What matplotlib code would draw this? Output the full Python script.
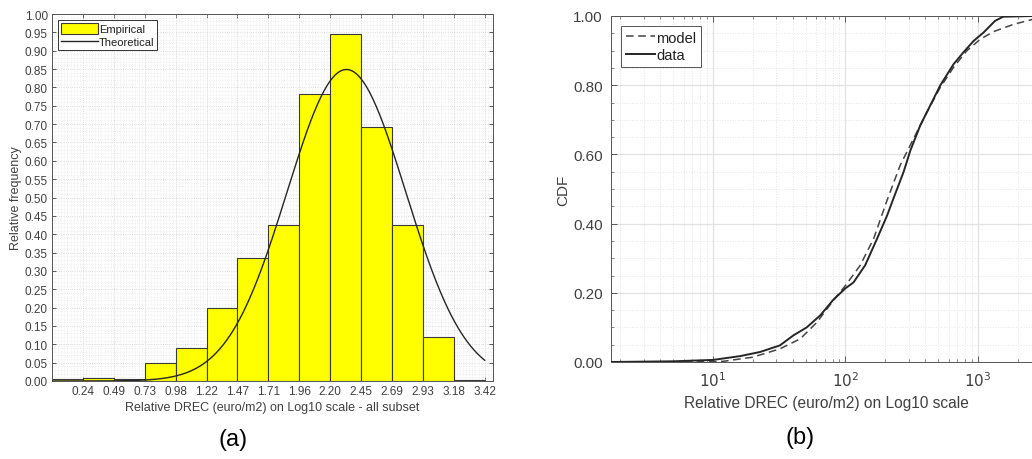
import numpy as np
import matplotlib
matplotlib.use("Agg")
import matplotlib.pyplot as plt
from matplotlib.ticker import FixedLocator, MultipleLocator, LogLocator, FuncFormatter

plt.rcParams['font.family'] = ['Liberation Sans', 'DejaVu Sans']

# ---------------- data: panel (a) ----------------
bin_edges = [0.0, 0.2446, 0.4891, 0.7337, 0.9783, 1.2229, 1.4674, 1.7120,
             1.9566, 2.2011, 2.4457, 2.6903, 2.9349, 3.1794, 3.4240]
xtick_labels = ['0.24', '0.49', '0.73', '0.98', '1.22', '1.47', '1.71',
                '1.96', '2.20', '2.45', '2.69', '2.93', '3.18', '3.42']
empirical = [0.006, 0.008, 0.006, 0.048, 0.091, 0.198, 0.334, 0.426,
             0.782, 0.945, 0.692, 0.426, 0.119, 0.003]
theo_mu = 2.33
theo_sigma = 0.47

# ---------------- data: panel (b) ----------------
data_x = [1.7, 5, 10, 16, 22.7, 32, 40.5, 51, 64.6, 81, 100, 115, 141, 173,
          206, 231, 275, 308, 367, 437, 520, 655, 777, 927, 1100, 1346,
          1550, 2570, 10000]
data_cdf = [0.0, 0.002, 0.006, 0.017, 0.029, 0.048, 0.077, 0.100, 0.135,
            0.180, 0.213, 0.230, 0.280, 0.356, 0.423, 0.474, 0.550, 0.610,
            0.684, 0.742, 0.800, 0.861, 0.895, 0.928, 0.952, 0.986, 0.998,
            1.0, 1.0]
model_x = [1.7, 5, 8, 12, 20, 32, 45.6, 61, 81, 100, 129, 163, 205, 259,
           327, 412, 520, 655, 826, 1042, 1313, 1860, 2570, 4000, 10000]
model_cdf = [0.0, 0.0, 0.0005, 0.002, 0.014, 0.038, 0.067, 0.115, 0.178,
             0.221, 0.279, 0.356, 0.465, 0.569, 0.646, 0.722, 0.794, 0.852,
             0.900, 0.933, 0.955, 0.976, 0.990, 0.997, 1.0]
log_ticks = [10, 100, 1000]

W, H = 1032, 460
fig = plt.figure(figsize=(W / 100, H / 100), dpi=100)

txt = '#404040'

def px_axes(l, t, r, b):
    return fig.add_axes([l / W, 1 - b / H, (r - l) / W, (b - t) / H])

# ---------------- panel (a) ----------------
ax1 = px_axes(52, 15, 493, 382)
widths = np.diff(bin_edges)
bars = ax1.bar(bin_edges[:-1], empirical, width=widths, align='edge',
               color='#ffff00', edgecolor='#3a3a3a', linewidth=0.8,
               label='Empirical', zorder=2)
xs = np.linspace(bin_edges[0], bin_edges[-1], 400)
pdf = np.exp(-0.5 * ((xs - theo_mu) / theo_sigma) ** 2) / (theo_sigma * np.sqrt(2 * np.pi))
line, = ax1.plot(xs, pdf, color='#262626', lw=1.0, label='Theoretical', zorder=3)
ax1.set_xlim(0, 3.49)
ax1.set_ylim(0, 1.0)
ax1.xaxis.set_major_locator(FixedLocator(bin_edges[1:]))
ax1.set_xticklabels(xtick_labels)
ax1.yaxis.set_major_locator(MultipleLocator(0.05))
ax1.yaxis.set_major_formatter(FuncFormatter(lambda v, p: f'{v:.2f}'))
ax1.xaxis.set_minor_locator(MultipleLocator(0.02446))
ax1.yaxis.set_minor_locator(MultipleLocator(0.01))
ax1.grid(True, which='major', color='#d4d4d4', lw=0.6, ls=':', zorder=0)
ax1.grid(True, which='minor', color='#e6e6e6', lw=0.5, ls=':', zorder=0)
ax1.set_axisbelow(True)
ax1.tick_params(axis='both', which='major', direction='in', length=3,
                labelsize=8.5, colors=txt, top=True, right=True, width=0.6,
                pad=3)
ax1.tick_params(axis='both', which='minor', length=0)
for s in ax1.spines.values():
    s.set_color('#555555'); s.set_linewidth(0.7)
ax1.set_xlabel('Relative DREC (euro/m2) on Log10 scale - all subset',
               fontsize=9, color=txt, labelpad=3)
ax1.set_ylabel('Relative frequency', fontsize=9, color=txt, labelpad=2)
leg1 = ax1.legend([bars, line], ['Empirical', 'Theoretical'],
                  loc='upper left', fontsize=8, frameon=True, fancybox=False,
                  edgecolor='#333333', framealpha=1, borderpad=0.25,
                  handlelength=3.3, handleheight=1.1, handletextpad=0.15,
                  labelspacing=0.2, borderaxespad=0.55)
leg1.get_frame().set_linewidth(0.7)
for t in leg1.get_texts():
    t.set_color('#202020')

fig.text(233 / W, 1 - 440 / H, '(a)', fontsize=17, ha='center', va='center',
         color='black')

# ---------------- panel (b) ----------------
xlo, xhi = 1.7, 10000.0
dec = 132.5
left_px = 611
right_px = left_px + dec * (np.log10(xhi) - np.log10(xlo))
ax2 = px_axes(left_px, 17, right_px, 363)
ax2.plot(model_x, model_cdf, color='#444444', lw=1.1, ls=(0, (5, 3)),
         label='model', zorder=3)
ax2.plot(data_x, data_cdf, color='#262626', lw=1.4, label='data', zorder=3)
ax2.set_xscale('log')
ax2.set_xlim(xlo, xhi)
ax2.set_ylim(0, 1.0)
ax2.xaxis.set_major_locator(FixedLocator(log_ticks))
ax2.xaxis.set_major_formatter(FuncFormatter(lambda v, p: f'$10^{{{int(round(np.log10(v)))}}}$'))
ax2.xaxis.set_minor_locator(LogLocator(base=10, subs=np.arange(2, 10), numticks=20))
ax2.xaxis.set_minor_formatter(FuncFormatter(lambda v, p: ''))
ax2.yaxis.set_major_locator(MultipleLocator(0.2))
ax2.yaxis.set_minor_locator(MultipleLocator(0.05))
ax2.yaxis.set_major_formatter(FuncFormatter(lambda v, p: f'{v:.2f}'))
ax2.grid(True, which='major', color='#e2e2e2', lw=0.9, ls='-', zorder=0)
ax2.grid(True, which='minor', color='#e6e6e6', lw=0.7, ls=':', zorder=0)
ax2.set_axisbelow(True)
ax2.tick_params(axis='both', which='major', direction='in', length=4,
                labelsize=11, colors=txt, top=True, right=True, width=0.6,
                pad=6)
ax2.tick_params(axis='both', which='minor', direction='in', length=2,
                top=True, right=True, width=0.5, colors='#555555')
for s in ax2.spines.values():
    s.set_color('#555555'); s.set_linewidth(0.7)
ax2.set_xlabel('Relative DREC (euro/m2) on Log10 scale', fontsize=11.2,
               color=txt, labelpad=4)
ax2.xaxis.set_label_coords((826 - left_px) / (right_px - left_px), -0.095)
ax2.set_ylabel('CDF', fontsize=11, color=txt, labelpad=2)
leg2 = ax2.legend(loc='upper left', fontsize=10.5, frameon=True, fancybox=False,
                  edgecolor='#555555', framealpha=1, borderpad=0.3,
                  handlelength=2.0, handletextpad=0.1, labelspacing=0.25,
                  borderaxespad=0.7)
leg2.get_frame().set_linewidth(0.7)
for t in leg2.get_texts():
    t.set_color('#202020')

fig.text(800 / W, 1 - 438 / H, '(b)', fontsize=17, ha='center', va='center',
         color='black')

fig.savefig('out.png', dpi=100)
